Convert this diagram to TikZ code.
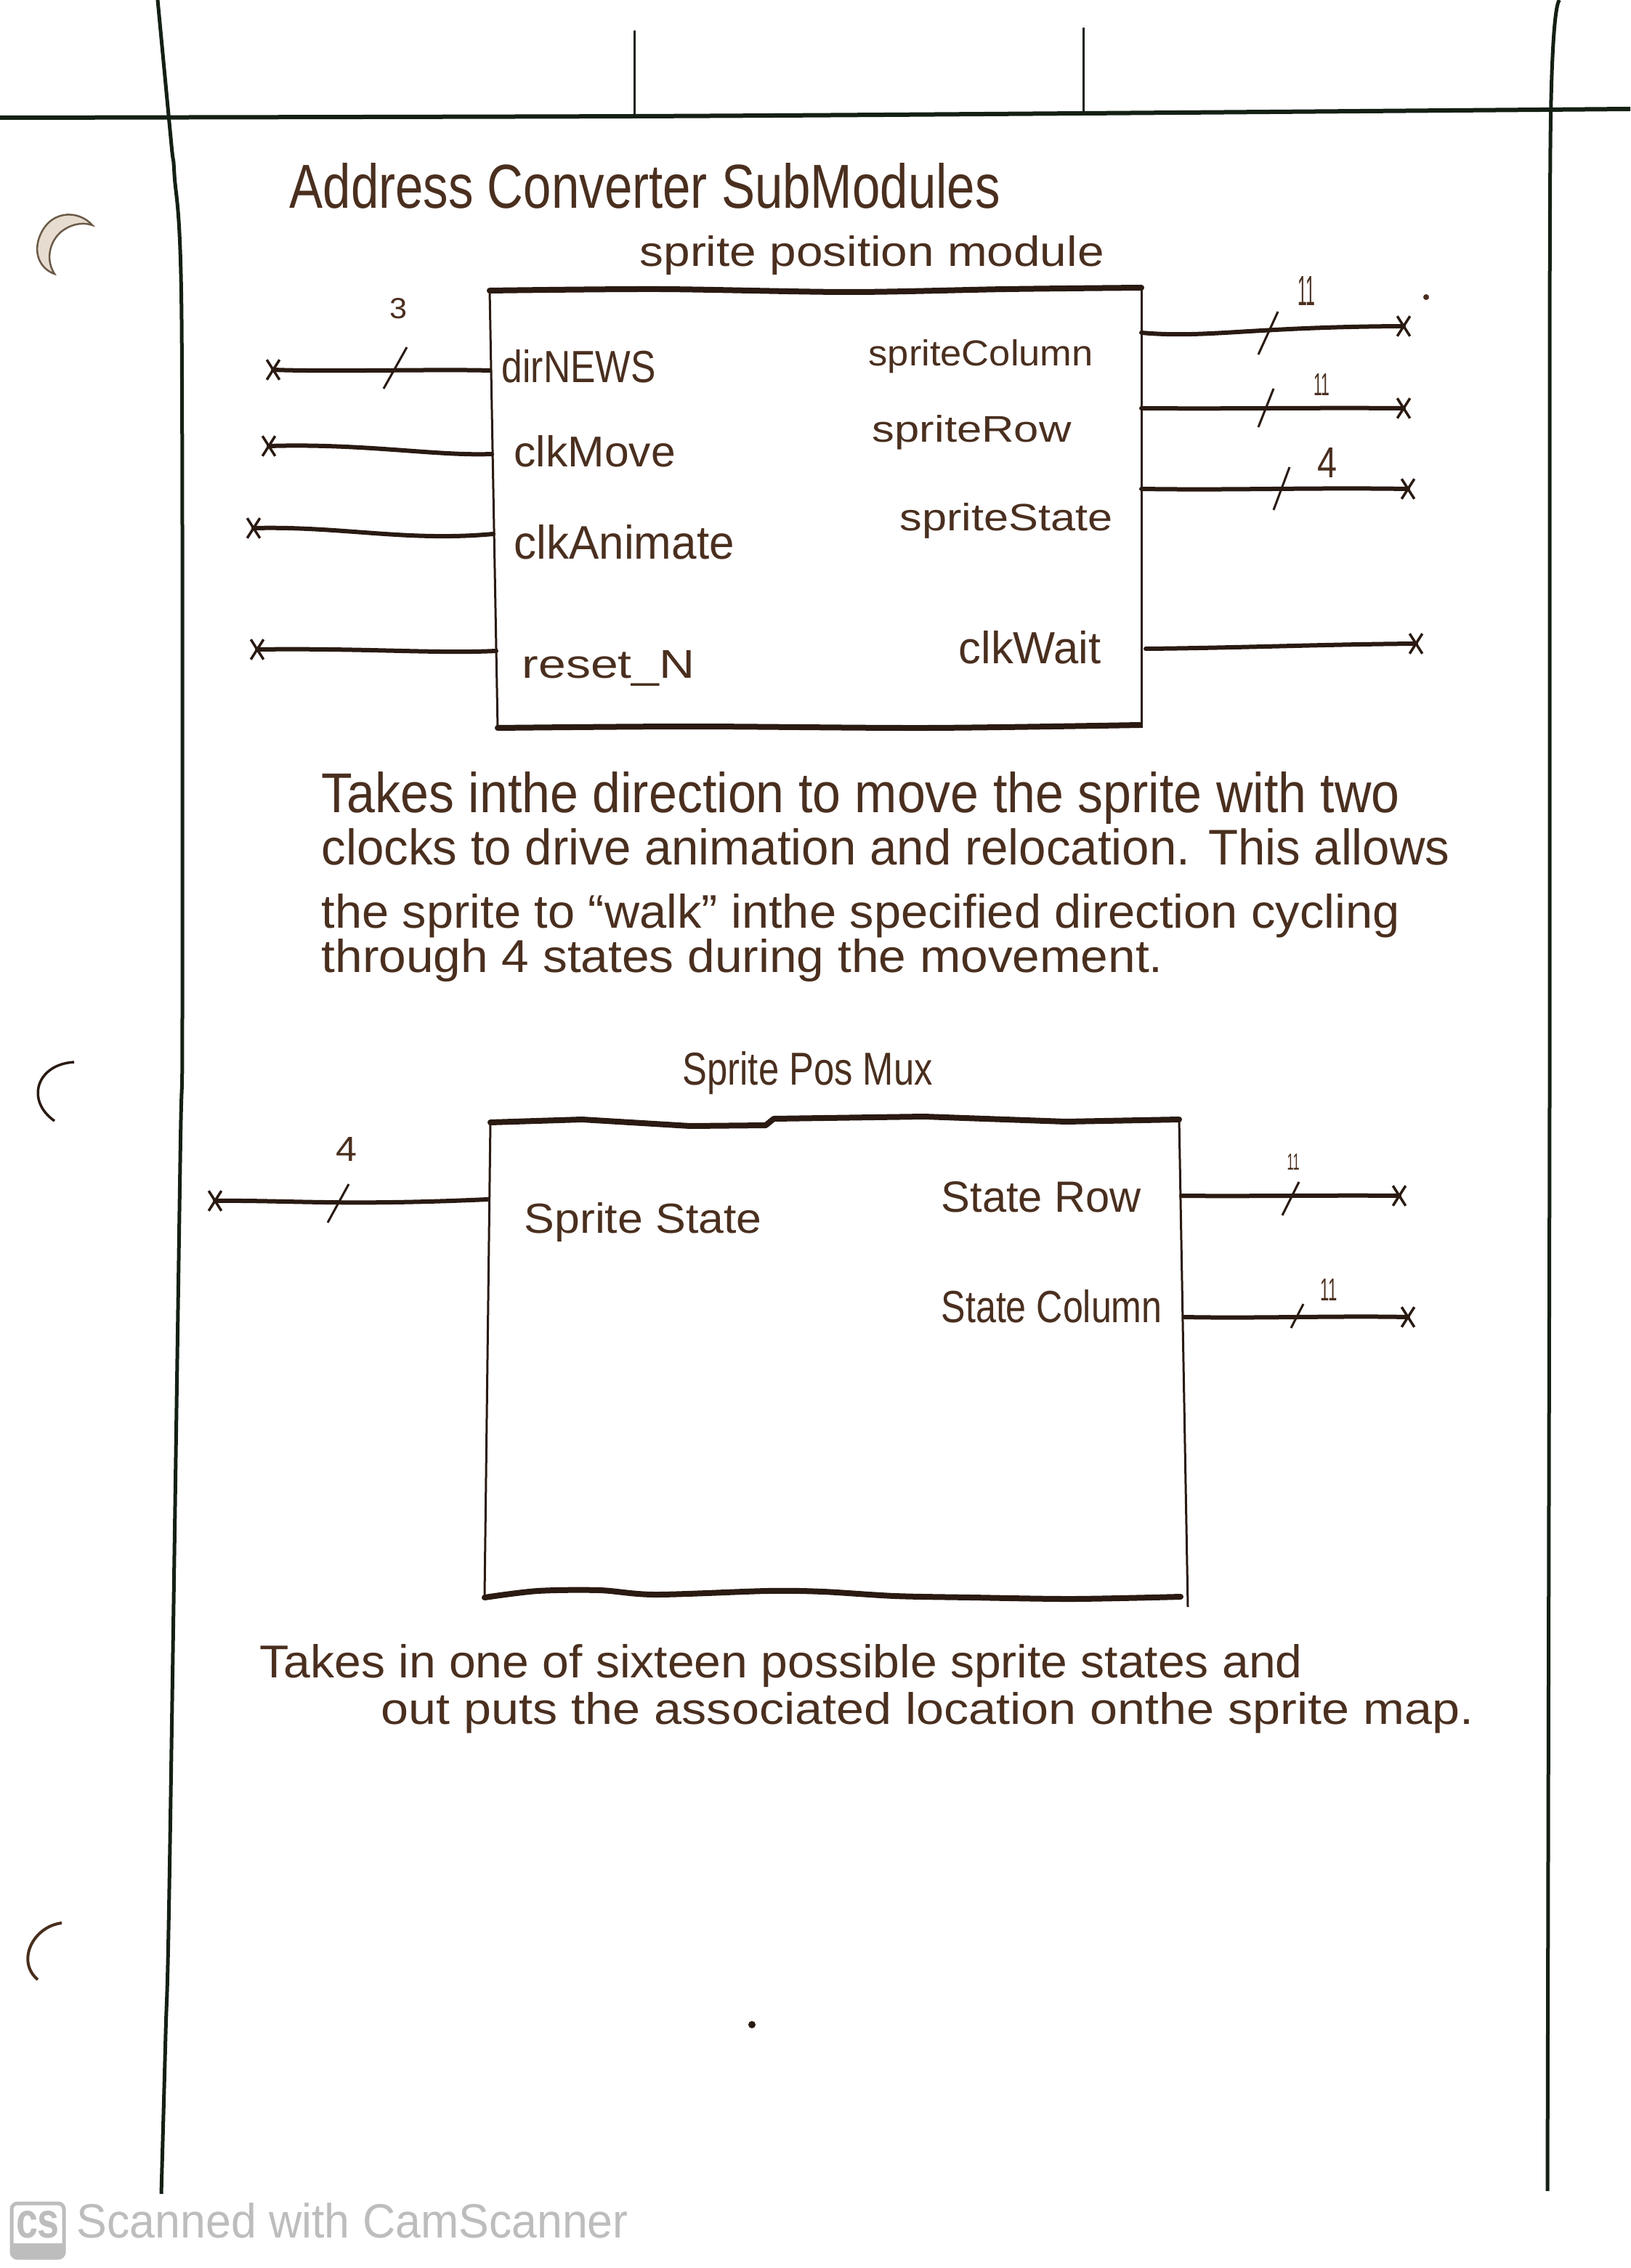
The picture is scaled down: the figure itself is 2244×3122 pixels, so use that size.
\documentclass[tikz,border=0pt]{standalone}
\usepackage{fontspec}
\setmainfont{Liberation Sans}
\usetikzlibrary{shapes.misc}
\newdimen\unitpx \unitpx=0.01cm
% handwritten-style text squeezed to a given width and height (in page pixels)
\newcommand\hw[3]{\resizebox{#1\unitpx}{#2\unitpx}{#3}}
\definecolor{ink}{HTML}{2A1A12}
\definecolor{pencil}{HTML}{4A2F1F}
\definecolor{rulegreen}{HTML}{142014}
\definecolor{scan}{HTML}{BDBDBD}
\definecolor{holefill}{HTML}{E6DDD0}
\definecolor{holeedge}{HTML}{6B5A48}
\begin{document}
\begin{tikzpicture}[x=0.01cm,y=-0.01cm,
  hand/.style={anchor=base west, inner sep=0pt, text=pencil},
  wire/.style={ink, line width=6\unitpx, line cap=round, line join=round},
  boxedge/.style={ink, line width=8\unitpx, line cap=round, line join=round},
  boxside/.style={ink, line width=3\unitpx},
  buslash/.style={ink, line width=3\unitpx},
  endx/.style={cross out, draw=ink, line width=3.5\unitpx, inner sep=0pt,
               minimum width=14\unitpx, minimum height=24\unitpx},
  paperline/.style={rulegreen, line width=5\unitpx}]
\useasboundingbox (0,0) rectangle (2244,3122);
\fill[white] (0,0) rectangle (2244,3122);

% ---- ruled sheet: margins, header rule, tick marks ----
\draw[paperline, line width=6\unitpx] plot[smooth] coordinates {(0,162) (873,160) (1491,156) (2244,150)};
\draw[paperline] plot[smooth] coordinates {(217,0) (236,200) (240,240) (250,440) (251,1400) (248,1600) (233,2600) (228,2800) (222,3020)};
\draw[paperline] plot[smooth] coordinates {(2147,0) (2134,200) (2133,1500) (2130,3016)};
\draw[paperline, line width=3\unitpx] (873,42) -- (873,160);
\draw[paperline, line width=3\unitpx] (1491,38) -- (1491,157);

% ---- punched holes ----
\filldraw[fill=holefill, draw=holeedge, line width=2.5\unitpx]
  (127,310) .. controls (108,288) and (66,288) .. (53,330)
  .. controls (46,355) and (60,372) .. (75,377)
  .. controls (64,360) and (66,336) .. (83,320)
  .. controls (96,309) and (113,305) .. (127,310) -- cycle;
\draw[ink, line width=3.5\unitpx] (102,1462) .. controls (50,1465) and (35,1515) .. (75,1543);
\draw[ink!80!brown, line width=4\unitpx] (85,2647) .. controls (45,2652) and (22,2700) .. (52,2725);

% ---- headings ----
\node[hand] (title) at (398,287) {\hw{978}{62}{Address Converter SubModules}};
\node[hand] (spmtitle) at (880,367) {\hw{639}{42}{sprite position module}};

% ---- sprite position module ----
\draw[boxedge] plot[smooth] coordinates {(674,400) (907,398) (1168,402) (1385,398) (1571,396)};
\draw[boxside] (674,400) -- (685,1002);
\draw[boxside] (1571,396) -- (1571,1002);
\draw[boxedge] plot[smooth] coordinates {(685,1002) (951,1000) (1276,1002) (1569,998)};

\node[hand] (lDir)   at (690,527)  {\hw{212}{45}{dirNEWS}};
\node[hand] (lMove)  at (707,643)  {\hw{222}{43}{clkMove}};
\node[hand] (lAnim)  at (707,770)  {\hw{303}{47}{clkAnimate}};
\node[hand] (lRst)   at (718,933)  {\hw{238}{38}{reset\_N}};
\node[hand] (lCol)   at (1195,504) {\hw{309}{36}{spriteColumn}};
\node[hand] (lRow)   at (1200,609) {\hw{274}{37}{spriteRow}};
\node[hand] (lState) at (1238,731) {\hw{293}{38}{spriteState}};
\node[hand] (lWait)  at (1319,913) {\hw{196}{45}{clkWait}};

% pins on the box edges and free wire ends
\coordinate (pDir)   at (674,510);
\coordinate (pMove)  at (677,625);
\coordinate (pAnim)  at (679,735);
\coordinate (pRst)   at (683,896);
\coordinate (pCol)   at (1571,458);
\coordinate (pRow)   at (1571,562);
\coordinate (pState) at (1571,673);
\coordinate (pWait)  at (1577,893);
\node[endx] (eDir)   at (376,509) {};
\node[endx] (eMove)  at (370,614) {};
\node[endx] (eAnim)  at (349,727) {};
\node[endx] (eRst)   at (354,894) {};
\node[endx] (eCol)   at (1932,449) {};
\node[endx] (eRow)   at (1932,562) {};
\node[endx] (eState) at (1938,673) {};
\node[endx] (eWait)  at (1949,886) {};

\draw[wire] (eDir.center) .. controls (450,512) and (600,508) .. (pDir);
\draw[wire] (eMove.center) .. controls (500,610) and (600,628) .. (pMove);
\draw[wire] (eAnim.center) .. controls (470,724) and (560,746) .. (pAnim);
\draw[wire] (eRst.center) .. controls (500,892) and (600,900) .. (pRst);
\draw[wire] (pCol) .. controls (1660,466) and (1720,450) .. (eCol.center);
\draw[wire] (pRow) .. controls (1700,563) and (1800,561) .. (eRow.center);
\draw[wire] (pState) .. controls (1700,675) and (1800,671) .. (eState.center);
\draw[wire] (pWait) .. controls (1700,892) and (1820,887) .. (eWait.center);

% bus widths
\draw[buslash] (528,535) -- (560,478);
\draw[buslash] (1732,488) -- (1759,429);
\draw[buslash] (1732,588) -- (1753,535);
\draw[buslash] (1753,702) -- (1775,643);
\node[hand] (wDir)   at (536,439)  {\hw{24}{28}{3}};
\node[hand] (wCol)   at (1786,421) {\hw{24}{40}{11}};
\node[hand] (wRow)   at (1808,545) {\hw{22}{30}{11}};
\node[hand] (wState) at (1813,658) {\hw{27}{41}{4}};

% ---- description of the position module ----
\node[hand] (d1) at (442,1118) {\hw{1484}{56}{Takes inthe direction to move the sprite with two}};
\node[hand] (d2) at (442,1190) {\hw{1553}{50}{clocks to drive animation and relocation. This allows}};
\node[hand] (d3) at (442,1277) {\hw{1484}{47}{the sprite to ``walk'' inthe specified direction cycling}};
\node[hand] (d4) at (442,1338) {\hw{1158}{46}{through 4 states during the movement.}};

% ---- sprite position multiplexer ----
\node[hand] (muxtitle) at (939,1493) {\hw{344}{46}{Sprite Pos Mux}};
\draw[boxedge] (675,1545) -- (801,1541) -- (950,1550) -- (1054,1549) -- (1065,1540)
  -- (1272,1537) -- (1467,1544) -- (1623,1541);
\draw[boxside] (675,1545) -- (667,2196);
\draw[boxside] (1623,1541) -- (1635,2212);
\draw[boxedge] plot[smooth] coordinates {(667,2199) (740,2190) (825,2189) (902,2195) (1056,2190) (1133,2191) (1232,2197) (1337,2199) (1477,2201) (1625,2198)};

\node[hand] (mState) at (721,1697)  {\hw{327}{42}{Sprite State}};
\node[hand] (mRow)   at (1295,1668) {\hw{275}{42}{State Row}};
\node[hand] (mCol)   at (1295,1820) {\hw{304}{45}{State Column}};

\coordinate (qState) at (671,1651);
\coordinate (qRow)   at (1626,1646);
\coordinate (qCol)   at (1630,1813);
\node[endx] (fState) at (296,1653) {};
\node[endx] (fRow)   at (1926,1646) {};
\node[endx] (fCol)   at (1938,1813) {};
\draw[wire] (fState.center) .. controls (400,1652) and (470,1660) .. (qState);
\draw[wire] (qRow) .. controls (1720,1647) and (1830,1645) .. (fRow.center);
\draw[wire] (qCol) .. controls (1730,1815) and (1840,1811) .. (fCol.center);

\draw[buslash] (451,1683) -- (480,1630);
\draw[buslash] (1765,1673) -- (1788,1627);
\draw[buslash] (1777,1828) -- (1794,1795);
\node[hand] (vState) at (462,1598) {\hw{29}{33}{4}};
\node[hand] (vRow)   at (1771,1610) {\hw{17}{22}{11}};
\node[hand] (vCol)   at (1817,1790) {\hw{23}{30}{11}};

% ---- description of the multiplexer ----
\node[hand] (m1) at (357,2309) {\hw{1435}{46}{Takes in one of sixteen possible sprite states and}};
\node[hand] (m2) at (524,2373) {\hw{1504}{44}{out puts the associated location onthe sprite map.}};

% specks of ink
\fill[pencil] (1963,409) circle (4);
\fill[ink] (1035,2787) circle (5);

% ---- scanner watermark ----
\draw[scan, line width=5\unitpx, rounded corners=8\unitpx] (16,3033) rectangle (88,3108);
\fill[scan] (16,3088) -- (88,3088) [rounded corners=8\unitpx] -- (88,3108) -- (16,3108) [sharp corners] -- cycle;
\node[anchor=base, inner sep=0pt, text=scan] (logo) at (52,3080) {\hw{60}{37}{\bfseries cs}};
\node[anchor=base west, inner sep=0pt, text=scan] (watermark) at (105,3080) {\hw{759}{48}{Scanned with CamScanner}};
\end{tikzpicture}
\end{document}
